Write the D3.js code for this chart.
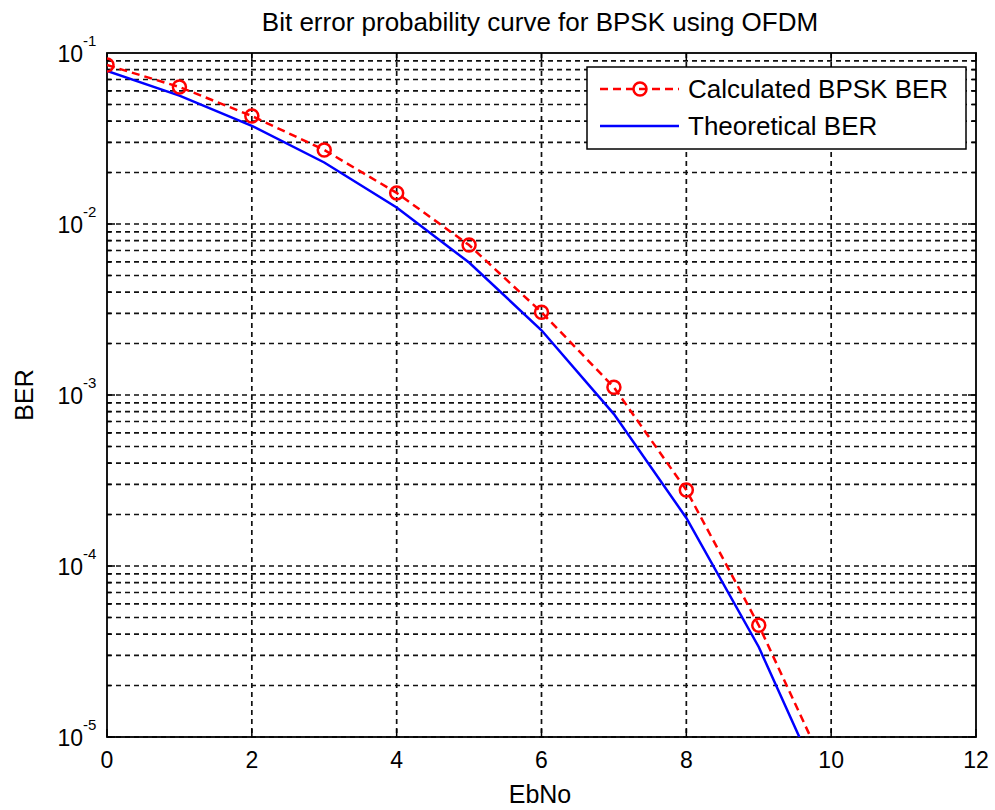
<!DOCTYPE html>
<html>
<head>
<meta charset="utf-8">
<script src="https://cdn.jsdelivr.net/npm/d3@7"></script>
<style>
  html, body { margin: 0; padding: 0; background: #fff; }
  svg { display: block; font-family: "Liberation Sans", Arial, sans-serif; }
</style>
</head>
<body>
<svg id="chart" width="995" height="810"></svg>
<script>
const ebno = [0, 1, 2, 3, 4, 5, 6, 7, 8, 9, 10];
const berCalculated = [0.085, 0.0633, 0.0428, 0.0271, 0.0152, 0.00753, 0.00305, 0.00111, 0.000278, 0.000045, 0.0000055];
const berTheoretical = [0.0786, 0.0563, 0.0375, 0.0229, 0.0125, 0.00595, 0.00239, 0.000773, 0.000191, 0.0000336, 0.00000387];
const xTicks = [0, 2, 4, 6, 8, 10, 12];
const yTickExponents = [-5, -4, -3, -2, -1];
const seriesNames = ["Calculated BPSK BER", "Theoretical BER"];
const titleText = "Bit error probability curve for BPSK using OFDM";
const xLabel = "EbNo";
const yLabel = "BER";

const svg = d3.select("#chart");
const L = 107, R = 976, T = 53, B = 737;

const x = d3.scaleLinear().domain([0, 12]).range([L, R]);
const y = d3.scaleLog().domain([1e-5, 1e-1]).range([B, T]);

svg.append("defs").append("clipPath").attr("id", "plotclip")
  .append("rect").attr("x", L).attr("y", T).attr("width", R - L).attr("height", B - T);

// grid
const grid = svg.append("g").attr("stroke", "#111").attr("stroke-width", 1.7)
  .attr("stroke-dasharray", "5,4").attr("fill", "none");
const minorVals = [];
yTickExponents.slice(0, -1).forEach(e => {
  for (let m = 1; m <= 9; m++) minorVals.push(m * Math.pow(10, e));
});
minorVals.forEach(v => {
  grid.append("line").attr("x1", L).attr("x2", R).attr("y1", y(v)).attr("y2", y(v));
});
xTicks.slice(1, -1).forEach(v => {
  grid.append("line").attr("x1", x(v)).attr("x2", x(v)).attr("y1", T).attr("y2", B);
});

// ticks (inward, all sides)
const ticks = svg.append("g").attr("stroke", "#000").attr("stroke-width", 1.5);
xTicks.forEach(v => {
  ticks.append("line").attr("x1", x(v)).attr("x2", x(v)).attr("y1", B).attr("y2", B - 8);
  ticks.append("line").attr("x1", x(v)).attr("x2", x(v)).attr("y1", T).attr("y2", T + 8);
});
minorVals.forEach((v, i) => {
  const len = (i % 9 === 0) ? 8 : 4;
  ticks.append("line").attr("x1", L).attr("x2", L + len).attr("y1", y(v)).attr("y2", y(v));
  ticks.append("line").attr("x1", R).attr("x2", R - len).attr("y1", y(v)).attr("y2", y(v));
});

// axes box
svg.append("rect").attr("x", L).attr("y", T).attr("width", R - L).attr("height", B - T)
  .attr("fill", "none").attr("stroke", "#000").attr("stroke-width", 1.8);

// x tick labels
svg.append("g").selectAll("text").data(xTicks).join("text")
  .attr("x", d => x(d)).attr("y", 768).attr("text-anchor", "middle")
  .attr("font-size", 23).attr("fill", "#000").text(d => d);

// y tick labels
const yl = svg.append("g");
yTickExponents.forEach(e => {
  const yy = y(Math.pow(10, e));
  yl.append("text").attr("x", 83).attr("y", yy + 9).attr("text-anchor", "end")
    .attr("font-size", 23).attr("fill", "#000").text("10");
  yl.append("text").attr("x", 83).attr("y", yy - 7).attr("text-anchor", "start")
    .attr("font-size", 15).attr("fill", "#000").text(String(e));
});

// lines
const plot = svg.append("g").attr("clip-path", "url(#plotclip)");
const line = d3.line().x((d, i) => x(ebno[i])).y(d => y(d));
plot.append("path").datum(berTheoretical).attr("d", line)
  .attr("fill", "none").attr("stroke", "#0000ff").attr("stroke-width", 2.5);
plot.append("path").datum(berCalculated).attr("d", line)
  .attr("fill", "none").attr("stroke", "#ff0000").attr("stroke-width", 2.5)
  .attr("stroke-dasharray", "8,5");
plot.selectAll("circle.m").data(berCalculated).join("circle").attr("class", "m")
  .attr("cx", (d, i) => x(ebno[i])).attr("cy", d => y(d)).attr("r", 6.5)
  .attr("fill", "none").attr("stroke", "#ff0000").attr("stroke-width", 2.5);

// title & labels
svg.append("text").attr("x", 540).attr("y", 31).attr("text-anchor", "middle")
  .attr("font-size", 26).attr("fill", "#000").text(titleText);
svg.append("text").attr("x", 540).attr("y", 803).attr("text-anchor", "middle")
  .attr("font-size", 25).attr("fill", "#000").text(xLabel);
svg.append("text").attr("transform", "translate(33,395) rotate(-90)").attr("text-anchor", "middle")
  .attr("font-size", 25).attr("fill", "#000").text(yLabel);

// legend
const lg = svg.append("g");
lg.append("rect").attr("x", 587).attr("y", 67).attr("width", 379).attr("height", 82)
  .attr("fill", "#fff").attr("stroke", "#000").attr("stroke-width", 1.5);
const r1 = 89, r2 = 126;
lg.append("line").attr("x1", 600).attr("x2", 679).attr("y1", r1).attr("y2", r1)
  .attr("stroke", "#ff0000").attr("stroke-width", 2.5).attr("stroke-dasharray", "8,5");
lg.append("circle").attr("cx", 640).attr("cy", r1).attr("r", 6.5)
  .attr("fill", "none").attr("stroke", "#ff0000").attr("stroke-width", 2.5);
lg.append("line").attr("x1", 600).attr("x2", 679).attr("y1", r2).attr("y2", r2)
  .attr("stroke", "#0000ff").attr("stroke-width", 2.5);
lg.append("text").attr("x", 688).attr("y", r1 + 9).attr("font-size", 26).attr("fill", "#000").text(seriesNames[0]);
lg.append("text").attr("x", 688).attr("y", r2 + 9).attr("font-size", 26).attr("fill", "#000").text(seriesNames[1]);
</script>
</body>
</html>
